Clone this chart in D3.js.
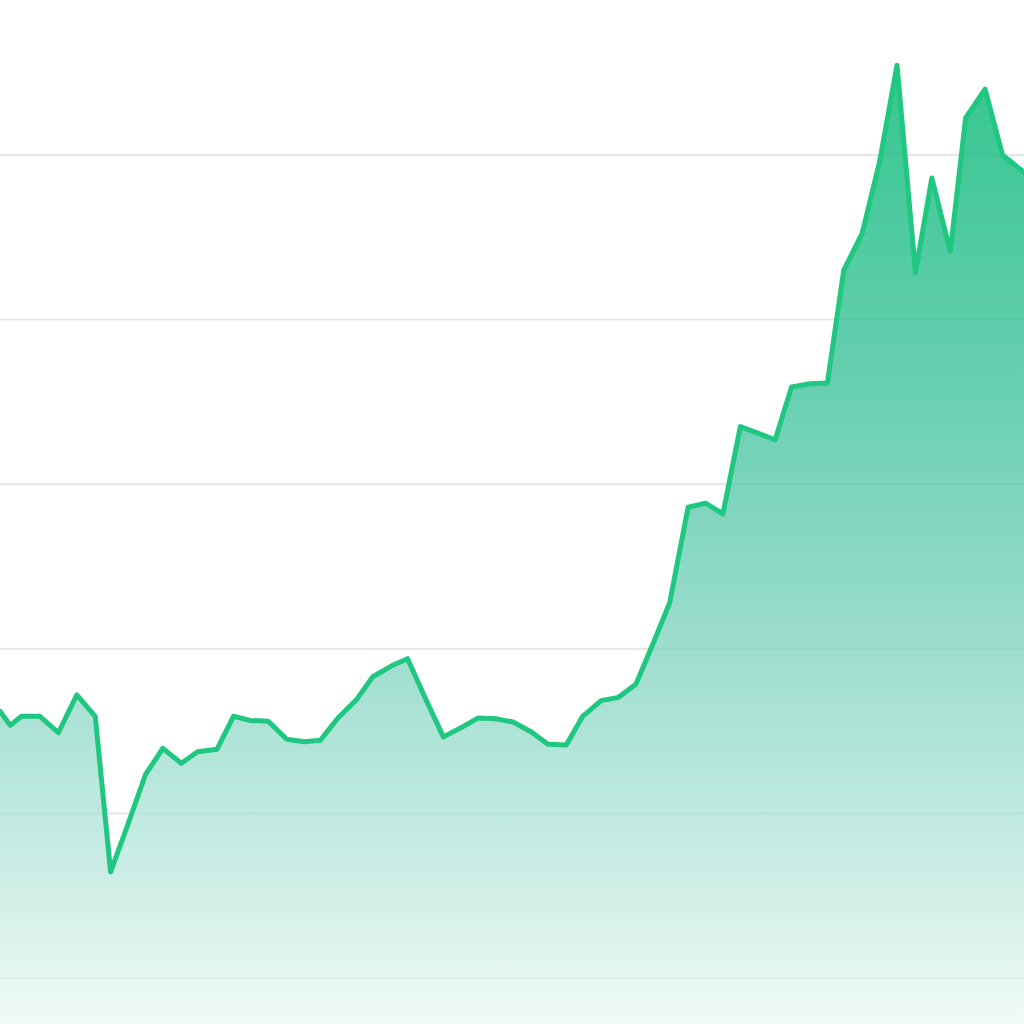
<!DOCTYPE html>
<html>
<head>
<meta charset="utf-8">
<script src="https://cdn.jsdelivr.net/npm/d3@7"></script>
<style>
  html, body { margin: 0; padding: 0; background: #ffffff; }
  svg { display: block; }
</style>
</head>
<body>
<svg id="chart" width="1024" height="1024"></svg>
<script>
// Data (x in arbitrary day units, values in chart units)
const days = [0, 1.0, 2.1, 3.9, 5.7, 7.5, 9.3, 10.8, 12.5, 14.2, 15.9, 17.7, 19.3, 21.2, 22.8, 24.4, 26.2, 28.0, 29.7, 31.3,
  33.0, 34.8, 36.4, 38.2, 39.8, 41.6, 43.3, 45.0, 46.7, 48.4, 50.1, 51.9, 53.5, 55.3, 56.9, 58.7, 60.4, 62.1, 63.8, 65.4,
  67.2, 68.9, 70.6, 72.3, 74.0, 75.7, 77.3, 79.1, 80.8, 82.4, 84.2, 85.9, 87.6, 89.4, 91.0, 92.8, 94.3, 96.2, 97.9, 100];
const values = [32.4, 30.7, 31.8, 31.8, 29.8, 34.4, 31.8, 12.9, 18.7, 24.7, 27.9, 26.1, 27.5, 27.8, 31.8, 31.3, 31.2, 29.0, 28.7, 28.9,
  31.6, 33.8, 36.6, 37.9, 38.8, 33.8, 29.3, 30.4, 31.6, 31.5, 31.1, 29.9, 28.4, 28.3, 31.8, 33.7, 34.1, 35.7, 40.7, 45.6,
  57.2, 57.7, 56.4, 67.0, 66.2, 65.4, 71.8, 72.2, 72.3, 86.0, 90.5, 99.2, 110.9, 85.7, 97.2, 88.3, 104.5, 108.0, 100.0, 97.9];
const gridTicks = [0, 20, 40, 60, 80, 100];

const W = 1024, H = 1024;
const svg = d3.select('#chart');

const x = d3.scaleLinear().domain([0, 100]).range([0, W]);
const y = d3.scaleLinear().domain([0, 100]).range([978, 155]);

const data = days.map((d, i) => ({ d, v: values[i] }));

// gradient
const defs = svg.append('defs');
const grad = defs.append('linearGradient')
  .attr('id', 'fillGrad')
  .attr('gradientUnits', 'userSpaceOnUse')
  .attr('x1', 0).attr('x2', 0)
  .attr('y1', y(112)).attr('y2', H);
[
  [0, '#33c68e'],
  [0.35, '#69cfb2'],
  [0.65, '#a5e0d2'],
  [0.85, '#cdeee6'],
  [1, '#f1faf8']
].forEach(([o, c]) => grad.append('stop').attr('offset', o).attr('stop-color', c));

// gridlines (under the area)
svg.append('g')
  .selectAll('line')
  .data(gridTicks)
  .join('line')
  .attr('x1', 0).attr('x2', W)
  .attr('y1', t => y(t)).attr('y2', t => y(t))
  .attr('stroke', '#ededed')
  .attr('stroke-width', 2);

// area
const area = d3.area()
  .x(p => x(p.d))
  .y0(H + 10)
  .y1(p => y(p.v));
svg.append('path')
  .datum(data)
  .attr('d', area)
  .attr('fill', 'url(#fillGrad)');

// faint gridlines showing through the fill
svg.append('g')
  .selectAll('line')
  .data(gridTicks)
  .join('line')
  .attr('x1', 0).attr('x2', W)
  .attr('y1', t => y(t)).attr('y2', t => y(t))
  .attr('stroke', 'rgba(0,60,50,0.035)')
  .attr('stroke-width', 2);

// line
const line = d3.line()
  .x(p => x(p.d))
  .y(p => y(p.v));
svg.append('path')
  .datum(data)
  .attr('d', line)
  .attr('fill', 'none')
  .attr('stroke', '#1fc781')
  .attr('stroke-width', 5)
  .attr('stroke-linejoin', 'round')
  .attr('stroke-linecap', 'round');
</script>
</body>
</html>
